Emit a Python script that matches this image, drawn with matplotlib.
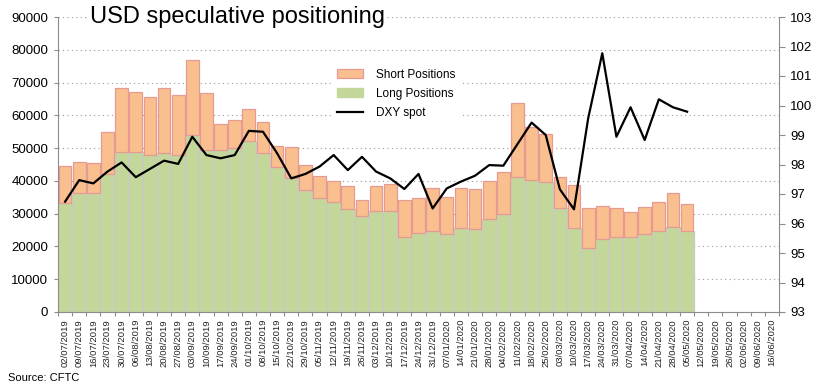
import matplotlib
matplotlib.use('Agg')
import matplotlib.pyplot as plt
import numpy as np
from matplotlib.patches import Patch
from matplotlib.lines import Line2D

plt.rcParams['font.family'] = ['Liberation Sans', 'DejaVu Sans']

dates = ['02/07/2019', '09/07/2019', '16/07/2019', '23/07/2019', '30/07/2019',
         '06/08/2019', '13/08/2019', '20/08/2019', '27/08/2019',
         '03/09/2019', '10/09/2019', '17/09/2019', '24/09/2019',
         '01/10/2019', '08/10/2019', '15/10/2019', '22/10/2019', '29/10/2019',
         '05/11/2019', '12/11/2019', '19/11/2019', '26/11/2019',
         '03/12/2019', '10/12/2019', '17/12/2019', '24/12/2019', '31/12/2019',
         '07/01/2020', '14/01/2020', '21/01/2020', '28/01/2020',
         '04/02/2020', '11/02/2020', '18/02/2020', '25/02/2020',
         '03/03/2020', '10/03/2020', '17/03/2020', '24/03/2020', '31/03/2020',
         '07/04/2020', '14/04/2020', '21/04/2020', '28/04/2020',
         '05/05/2020', '12/05/2020', '19/05/2020', '26/05/2020',
         '02/06/2020', '09/06/2020', '16/06/2020']

# long positions (green, from zero)
long_pos = [33200, 36200, 36200, 42000, 48900, 48900, 47800, 48600, 47800,
            54000, 49400, 49400, 50100, 52300, 48600, 44300, 40800, 37200,
            34700, 33700, 31300, 29300, 30900, 30800, 22800, 24000, 24700,
            23700, 25500, 25200, 28300, 29800, 41300, 40300, 39600, 31600,
            25500, 19400, 22200, 22800, 22800, 23700, 24700, 26000, 24700]

# short positions (orange, stacked on top of long)
short_pos = [11400, 9500, 9200, 13000, 19300, 18100, 17900, 19600, 18300,
             22800, 17300, 7900, 8500, 9700, 9300, 6400, 9500, 7600,
             6800, 6300, 7100, 4900, 7500, 8200, 11400, 10700, 13000,
             11300, 12200, 12200, 11700, 12800, 22400, 16000, 14600, 9500,
             13200, 12200, 10000, 8900, 7600, 8400, 9000, 10200, 8200]

dxy = [96.74, 97.47, 97.36, 97.76, 98.07, 97.57, 97.85, 98.13, 98.02,
       98.94, 98.32, 98.21, 98.32, 99.14, 99.11, 98.38, 97.53, 97.68,
       97.93, 98.32, 97.81, 98.26, 97.76, 97.53, 97.17, 97.68, 96.51,
       97.19, 97.42, 97.62, 97.98, 97.96, 98.69, 99.42, 99.00, 97.16,
       96.48, 99.56, 101.77, 98.94, 99.94, 98.83, 100.21, 99.94, 99.79]

green = '#c4d79b'
orange = '#fabf8f'
orange_edge = '#e59a94'
axis_grey = '#8c8c8c'

fig = plt.figure(figsize=(8.2, 3.86), dpi=100)
ax = fig.add_axes([58/820, 1 - 312/386, (779 - 58)/820, (312 - 17)/386])

x = np.arange(len(long_pos))
ax.bar(x, long_pos, width=1.0, color=green, edgecolor='#c8c8c8', linewidth=0.9, zorder=2)
ax.bar(x, short_pos, bottom=long_pos, width=0.9, color=orange, edgecolor=orange_edge,
       linewidth=0.9, zorder=2)

ax.set_xlim(-0.5, len(dates) - 0.5)
ax.set_ylim(0, 90000)
ax.set_yticks(np.arange(0, 90001, 10000))
ax.yaxis.grid(True, linestyle=(0, (1, 3)), color='#9a9a9a', linewidth=0.8)
ax.set_axisbelow(True)

ax.set_xticks(np.arange(len(dates) + 1) - 0.5)
ax.set_xticklabels([])
ax.set_xticks(np.arange(len(dates)), minor=True)
ax.set_xticklabels(dates, minor=True, rotation=90, fontsize=6.8, color='#222222')
ax.tick_params(axis='x', which='major', length=3, color=axis_grey)
ax.tick_params(axis='x', which='minor', length=0, pad=5)
ax.tick_params(axis='y', length=3, color=axis_grey, labelsize=9.5, pad=4)

for s in ['top', 'right']:
    ax.spines[s].set_visible(False)
for s in ['left', 'bottom']:
    ax.spines[s].set_color(axis_grey)

ax2 = ax.twinx()
ax2.plot(np.arange(len(dxy)), dxy, color='black', linewidth=1.6, zorder=3)
ax2.set_ylim(93, 103)
ax2.set_yticks(np.arange(93, 104, 1))
ax2.tick_params(axis='y', length=4, color=axis_grey, labelsize=9.5, pad=4)
for s in ['top', 'left', 'bottom']:
    ax2.spines[s].set_visible(False)
ax2.spines['right'].set_color(axis_grey)

handles = [Patch(facecolor=orange, edgecolor=orange_edge, linewidth=0.9),
           Patch(facecolor=green, edgecolor=green),
           Line2D([0], [0], color='black', linewidth=1.6)]
leg = fig.legend(handles, ['Short Positions', 'Long Positions', 'DXY spot'],
                 loc='upper left', bbox_to_anchor=(325/820, 1 - 57/386),
                 frameon=True, fontsize=8.5, handlelength=2.2, handleheight=0.8,
                 labelspacing=0.6, handletextpad=1.1, borderpad=0.5)
leg.get_frame().set_facecolor('white')
leg.get_frame().set_edgecolor('none')
leg.get_frame().set_alpha(1)

fig.text(90/820, 1 - 17/386, 'USD speculative positioning', fontsize=17, va='center',
         ha='left', bbox=dict(facecolor='white', edgecolor='none', pad=1))

fig.text(8/820, 1 - 378/386, 'Source: CFTC', fontsize=8, va='center', ha='left')

fig.savefig('out.png', dpi=100)
